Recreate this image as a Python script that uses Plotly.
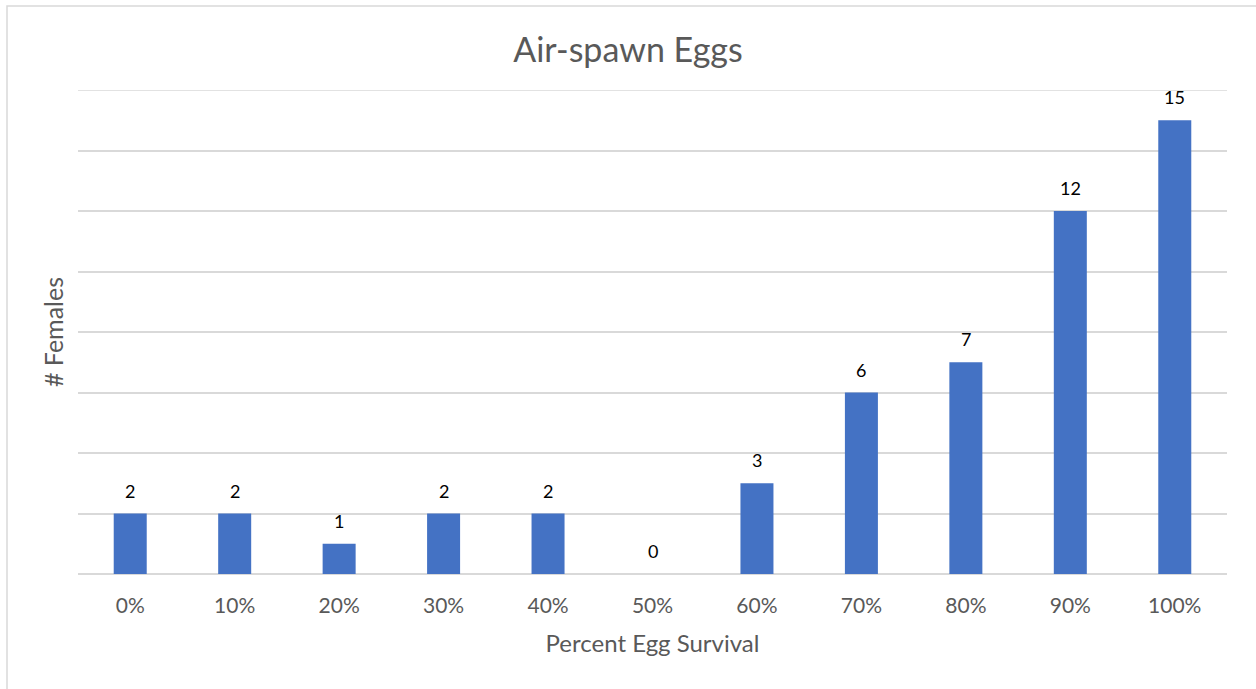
import plotly.graph_objects as go

# Survival bins and counts of females per bin
categories = ["0%", "10%", "20%", "30%", "40%", "50%", "60%", "70%", "80%", "90%", "100%"]
females = [2, 2, 1, 2, 2, 0, 3, 6, 7, 12, 15]
y_max = 16

BAR_COLOR = "#4472C4"
TEXT_GRAY = "#595959"
GRID_GRAY = "#D9D9D9"
FONT = "Lato, 'Open Sans', sans-serif"

W, H = 1256, 689
L, R, T, B = 78, 29, 90, 115

fig = go.Figure()
fig.add_trace(go.Bar(
    x=categories,
    y=females,
    marker=dict(color=BAR_COLOR, line=dict(width=0)),
    hoverinfo="x+y",
))

# value labels above each bar
for cat, val in zip(categories, females):
    fig.add_annotation(
        x=cat, y=val, text=str(val), showarrow=False,
        yshift=23, font=dict(family=FONT, size=18, color="#000000"),
        xanchor="center", yanchor="middle",
    )

# gridline at the top of the value range
fig.add_shape(
    type="line", xref="paper", yref="y",
    x0=0, x1=1, y0=y_max, y1=y_max,
    line=dict(color=GRID_GRAY, width=1.5), layer="below",
)

# chart frame
pw, ph = W - L - R, H - T - B
fig.add_shape(
    type="rect", xref="paper", yref="paper",
    x0=(7 - L) / pw, x1=(W + 10 - L) / pw,
    y0=-(H + 10 - (H - B)) / ph, y1=(H - B - 6) / ph,
    line=dict(color=GRID_GRAY, width=1.5), fillcolor="rgba(0,0,0,0)",
    layer="below",
)

fig.update_layout(
    width=W, height=H,
    margin=dict(l=L, r=R, t=T, b=B),
    paper_bgcolor="white", plot_bgcolor="white",
    bargap=0.684,
    showlegend=False,
    font=dict(family=FONT, color=TEXT_GRAY),
    title=dict(
        text="Air-spawn Eggs", x=0.5, xanchor="center",
        y=1 - 50 / H, yanchor="middle", yref="container",
        font=dict(family=FONT, size=34, color=TEXT_GRAY),
    ),
    xaxis=dict(
        title=dict(text="Percent Egg Survival", standoff=19,
                   font=dict(family=FONT, size=24, color=TEXT_GRAY)),
        tickfont=dict(family=FONT, size=21, color=TEXT_GRAY),
        ticklabelstandoff=17,
        showline=False, showgrid=False, ticks="", ticklen=0,
    ),
    yaxis=dict(
        title=dict(text="# Females", standoff=6,
                   font=dict(family=FONT, size=25, color=TEXT_GRAY)),
        range=[0, y_max], tick0=0, dtick=2, showticklabels=False,
        showgrid=True, gridcolor=GRID_GRAY, gridwidth=1.5,
        zeroline=True, zerolinecolor=GRID_GRAY, zerolinewidth=1.5,
        showline=False, ticks="",
    ),
)

fig.write_html("out.html")
